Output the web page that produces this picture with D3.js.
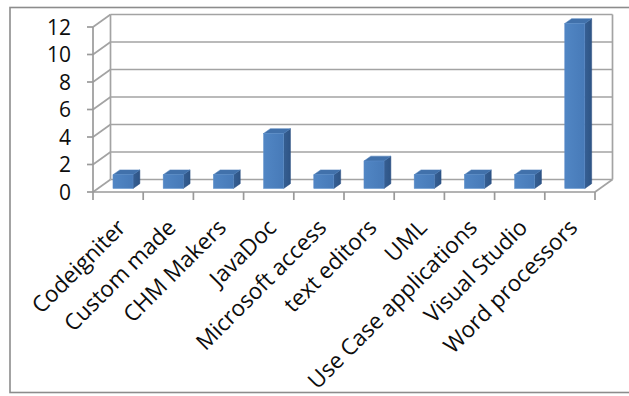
<!DOCTYPE html>
<html>
<head>
<meta charset="utf-8">
<script src="https://cdn.jsdelivr.net/npm/d3@7"></script>
<style>
  html, body { margin: 0; padding: 0; background: #ffffff; }
  svg { display: block; }
  text { font-family: "Open Sans", "DejaVu Sans", sans-serif; fill: #0d0d0d; }
</style>
</head>
<body>
<svg id="chart" width="629" height="396"></svg>
<script>
const categories = ["Codeigniter", "Custom made", "CHM Makers", "JavaDoc", "Microsoft access",
  "text editors", "UML", "Use Case applications", "Visual Studio", "Word processors"];
const values = [1, 1, 1, 4, 1, 2, 1, 1, 1, 12];
const yTicks = [0, 2, 4, 6, 8, 10, 12];

const svg = d3.select("#chart");

// 3D projection parameters
const depthX = 17.5, depthY = -12.5;
const barD0 = 0.28, barD1 = 0.67;   // bar depth position (fraction of full depth)
const barFrac = 0.4;                // bar width as fraction of band

const x = d3.scaleBand().domain(categories).range([93, 595]).paddingInner(0).paddingOuter(0);
const y = d3.scaleLinear().domain([0, 12]).range([192, 27]);

// outer frame
svg.append("rect").attr("x", 10).attr("y", 7.5).attr("width", 640).attr("height", 385)
  .attr("fill", "#fff").attr("stroke", "#8c8c8c").attr("stroke-width", 1.6);

const grid = svg.append("g").attr("stroke", "#a3a3a3").attr("stroke-width", 1.7).attr("fill", "none");
const x0 = x.range()[0], x1 = x.range()[1];

// back wall gridlines and side wall diagonals
yTicks.forEach(t => {
  grid.append("line").attr("x1", x0 + depthX).attr("x2", x1 + depthX)
    .attr("y1", y(t) + depthY).attr("y2", y(t) + depthY);
  grid.append("line").attr("x1", x0).attr("x2", x0 + depthX)
    .attr("y1", y(t)).attr("y2", y(t) + depthY);
});
// back wall verticals
[x0 + depthX, x1 + depthX].forEach(xx => {
  grid.append("line").attr("x1", xx).attr("x2", xx)
    .attr("y1", y(0) + depthY).attr("y2", y(12) + depthY);
});
// right floor diagonal
grid.append("line").attr("x1", x1).attr("x2", x1 + depthX)
  .attr("y1", y(0)).attr("y2", y(0) + depthY);

// front axes
const axes = svg.append("g").attr("stroke", "#9a9a9a").attr("stroke-width", 1.7).attr("fill", "none");
axes.append("line").attr("x1", x0).attr("x2", x0).attr("y1", y(0)).attr("y2", y(12));
axes.append("line").attr("x1", x0).attr("x2", x1).attr("y1", y(0)).attr("y2", y(0));
yTicks.forEach(t => {
  axes.append("line").attr("x1", x0 - 6).attr("x2", x0).attr("y1", y(t)).attr("y2", y(t));
});
d3.range(categories.length + 1).forEach(i => {
  const xx = x0 + i * x.bandwidth();
  axes.append("line").attr("x1", xx).attr("x2", xx).attr("y1", y(0)).attr("y2", y(0) + 8);
});

// bars
const defs = svg.append("defs");
const gF = defs.append("linearGradient").attr("id", "gFront").attr("x1", 0).attr("x2", 1).attr("y1", 0).attr("y2", 0);
gF.append("stop").attr("offset", "0%").attr("stop-color", "#5186c4");
gF.append("stop").attr("offset", "100%").attr("stop-color", "#477ab8");
const gS = defs.append("linearGradient").attr("id", "gSide").attr("x1", 0).attr("x2", 1).attr("y1", 0).attr("y2", 0);
gS.append("stop").attr("offset", "0%").attr("stop-color", "#365f93");
gS.append("stop").attr("offset", "100%").attr("stop-color", "#2e5485");

const bars = svg.append("g");
categories.forEach((c, i) => {
  const v = values[i];
  const cx = x(c) + x.bandwidth() / 2;
  const bw = x.bandwidth() * barFrac;
  const fx0 = cx + barD0 * depthX - bw / 2;
  const fx1 = fx0 + bw;
  const fyb = y(0) + barD0 * depthY;
  const fyt = y(v) + barD0 * depthY;
  const ddx = (barD1 - barD0) * depthX, ddy = (barD1 - barD0) * depthY;
  const g = bars.append("g");
  g.append("path").attr("d", `M${fx1},${fyb} L${fx1},${fyt} L${fx1 + ddx},${fyt + ddy} L${fx1 + ddx},${fyb + ddy} Z`)
    .attr("fill", "url(#gSide)").attr("stroke", "#2b4f80").attr("stroke-width", 0.5);
  g.append("path").attr("d", `M${fx0},${fyt} L${fx1},${fyt} L${fx1 + ddx},${fyt + ddy} L${fx0 + ddx},${fyt + ddy} Z`)
    .attr("fill", "#4171ab").attr("stroke", "#4a7cb8").attr("stroke-width", 0.5);
  g.append("rect").attr("x", fx0).attr("y", fyt).attr("width", bw).attr("height", fyb - fyt)
    .attr("fill", "url(#gFront)").attr("stroke", "#5b8dca").attr("stroke-width", 0.5);
});

// y labels
svg.append("g").selectAll("text").data(yTicks).join("text")
  .attr("x", 71).attr("y", d => y(d) + 2)
  .attr("text-anchor", "end").attr("dominant-baseline", "middle")
  .style("font-size", "21px")
  .text(d => d);

// category labels
svg.append("g").selectAll("text").data(categories).join("text")
  .attr("text-anchor", "end")
  .attr("transform", d => `translate(${x(d) + x.bandwidth() / 2 + 9},${229}) rotate(-45)`)
  .style("font-size", "22.5px")
  .text(d => d);
</script>
</body>
</html>
